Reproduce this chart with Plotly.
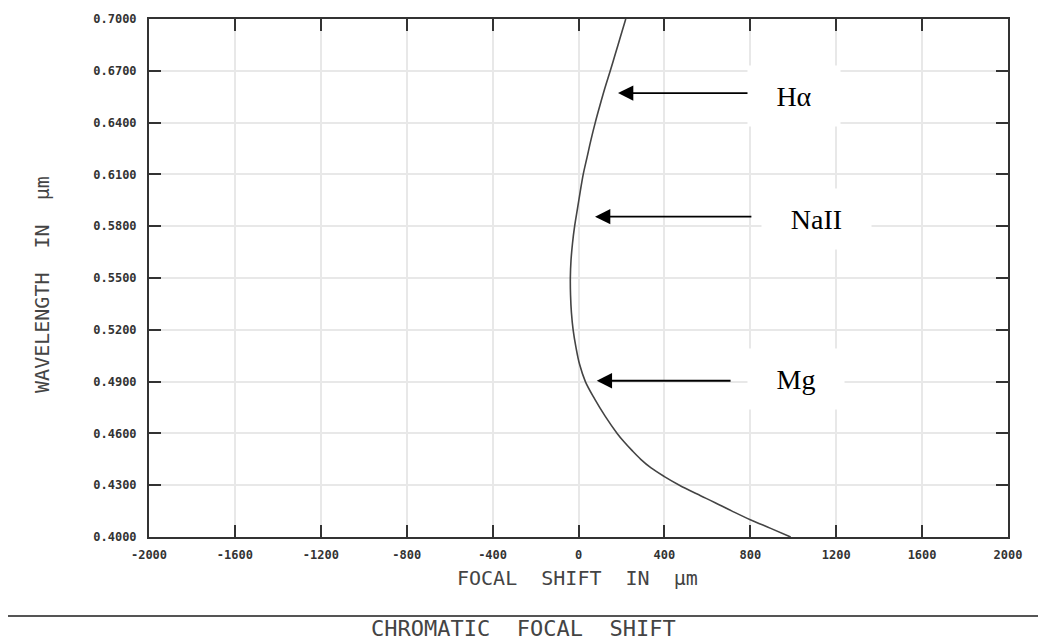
import plotly.graph_objects as go

# Data
wavelength_um = [0.400, 0.405, 0.410, 0.415, 0.420, 0.425, 0.430, 0.435, 0.440, 0.445,
                 0.450, 0.455, 0.460, 0.470, 0.480, 0.490, 0.500, 0.510, 0.520, 0.530,
                 0.540, 0.550, 0.560, 0.570, 0.580, 0.590, 0.600, 0.610, 0.620, 0.630,
                 0.640, 0.650, 0.660, 0.670, 0.680, 0.690, 0.700]
focal_shift_um = [988, 895, 800, 715, 634, 550, 470, 400, 338, 290,
                  250, 213, 180, 124, 75, 32, 5, -12, -25, -33,
                  -37, -38, -35, -28, -18, -5, 8, 22, 40, 58,
                  78, 100, 123, 148, 172, 196, 220]

x_ticks = [-2000, -1600, -1200, -800, -400, 0, 400, 800, 1200, 1600, 2000]
y_ticks = [0.40, 0.43, 0.46, 0.49, 0.52, 0.55, 0.58, 0.61, 0.64, 0.67, 0.70]
y_tick_labels = ["%.4f" % v for v in y_ticks]

# Spectral line labels
line_labels = ["H\u03b1", "NaII", "Mg"]
line_tip_x = [184, 77, 85]
line_tail_x = [808, 812, 715]
line_wl = [0.6571, 0.5855, 0.4905]
label_x = [1005, 1110, 1015]
label_y = [0.6553, 0.5839, 0.4916]
label_box_w = [90, 107, 94]

W, H = 1038, 640
L, R, T, B = 149, 30, 13, 103
pw, ph = W - L - R, H - T - B

def px_x(p):
    return (p - L) / pw

def px_y(p):
    return (H - B - p) / ph

fig = go.Figure()
fig.add_trace(go.Scatter(
    x=focal_shift_um, y=wavelength_um, mode="lines",
    line=dict(color="#444444", width=1.6, shape="spline", smoothing=1.0),
    showlegend=False, hoverinfo="skip"))

tickfont = dict(family="DejaVu Sans Mono", size=12, color="#333333", weight="bold")
axis_common = dict(
    showline=True, linecolor="#333333", linewidth=2, mirror="ticks",
    ticks="inside", ticklen=12, tickwidth=2, tickcolor="#333333",
    showgrid=True, gridcolor="#e8e8e8", gridwidth=1.5, zeroline=False,
    tickfont=tickfont,
)

fig.update_xaxes(range=[-2000, 2000], tickvals=x_ticks,
                 ticktext=[str(v) for v in x_ticks], ticklabelstandoff=6, **axis_common)
fig.update_yaxes(range=[0.40, 0.70], tickvals=y_ticks, ticktext=y_tick_labels,
                 ticklabelstandoff=8, **axis_common)

annotations = []
for lab, tip, tail, wl, tx, ty, bw in zip(line_labels, line_tip_x, line_tail_x, line_wl,
                                          label_x, label_y, label_box_w):
    annotations.append(dict(
        x=tip, y=wl, ax=tail, ay=wl, xref="x", yref="y", axref="x", ayref="y",
        text="", showarrow=True, arrowhead=2, arrowsize=1.7, arrowwidth=1.8,
        arrowcolor="black", standoff=0))
    annotations.append(dict(
        x=tx, y=ty, xref="x", yref="y", text=lab, showarrow=False,
        font=dict(family="Liberation Serif", size=28, color="black"),
        bgcolor="white", width=bw, height=58, xanchor="center", yanchor="middle"))

title_font = dict(family="DejaVu Sans Mono", size=20, color="#444444")
annotations.append(dict(
    x=px_x(577), y=px_y(578), xref="paper", yref="paper",
    text="FOCAL  SHIFT  IN  \u03bcm", showarrow=False, font=title_font,
    xanchor="center", yanchor="middle"))
annotations.append(dict(
    x=px_x(42), y=px_y(282), xref="paper", yref="paper",
    text="WAVELENGTH  IN  \u03bcm", showarrow=False, font=title_font,
    textangle=-90, xanchor="center", yanchor="middle"))
annotations.append(dict(
    x=px_x(523), y=px_y(630), xref="paper", yref="paper",
    text="CHROMATIC  FOCAL  SHIFT", showarrow=False,
    font=dict(family="DejaVu Sans Mono", size=22, color="#444444"),
    xanchor="center", yanchor="middle"))

fig.update_layout(
    width=W, height=H,
    margin=dict(l=L, r=R, t=T, b=B),
    paper_bgcolor="white", plot_bgcolor="white",
    annotations=annotations,
    shapes=[dict(type="line", xref="paper", yref="paper",
                 x0=px_x(8), x1=px_x(1038), y0=px_y(617), y1=px_y(617),
                 line=dict(color="#555555", width=2))],
)

fig.write_html("out.html")
